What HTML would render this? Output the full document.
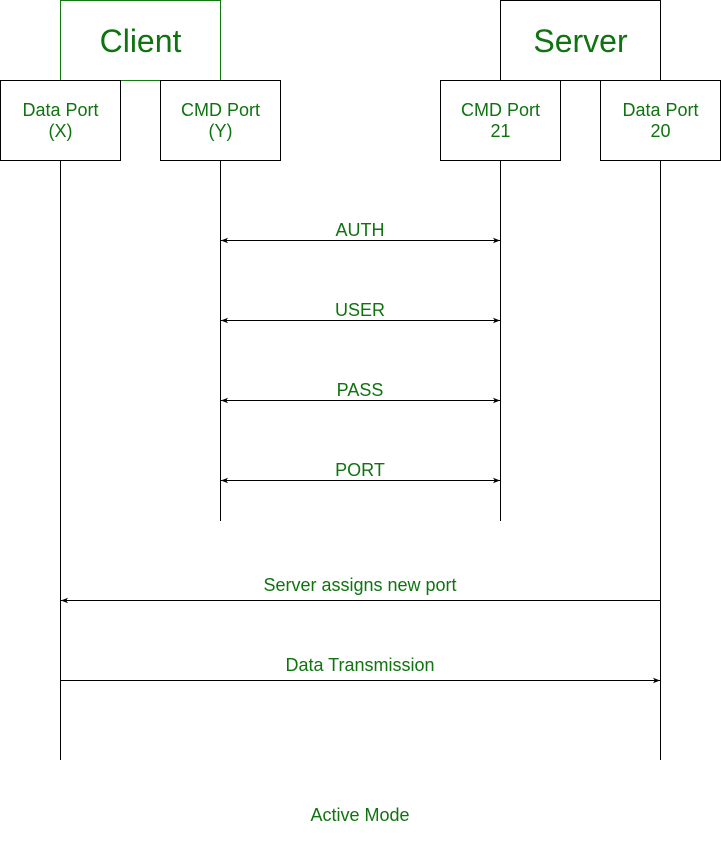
<!DOCTYPE html>
<html><head><meta charset="utf-8"><style>
html,body{margin:0;padding:0;background:#fff;}
svg{display:block;}
text{font-family:"Liberation Sans",sans-serif;fill:#0f730f;text-anchor:middle;}
</style></head><body>
<svg width="721" height="851" viewBox="0 0 721 851" xmlns="http://www.w3.org/2000/svg">
<defs>
<marker id="a" viewBox="0 0 10 10" refX="10" refY="5" markerWidth="7" markerHeight="7" orient="auto-start-reverse" markerUnits="userSpaceOnUse">
<path d="M0,1 L10,5 L0,9 L2.5,5 Z" fill="#000"/>
</marker>
</defs>
<g fill="none" stroke-width="1" shape-rendering="crispEdges">
<rect x="60.5" y="0.5" width="160" height="80" stroke="#137a13" fill="#fff"/>
<rect x="500.5" y="0.5" width="160" height="80" stroke="#000" fill="#fff"/>
<rect x="0.5" y="80.5" width="120" height="80" stroke="#000" fill="#fff"/>
<rect x="160.5" y="80.5" width="120" height="80" stroke="#000" fill="#fff"/>
<rect x="440.5" y="80.5" width="120" height="80" stroke="#000" fill="#fff"/>
<rect x="600.5" y="80.5" width="120" height="80" stroke="#000" fill="#fff"/>
<line x1="60.5" y1="160" x2="60.5" y2="760" stroke="#000"/>
<line x1="220.5" y1="160" x2="220.5" y2="521" stroke="#000"/>
<line x1="500.5" y1="160" x2="500.5" y2="521" stroke="#000"/>
<line x1="660.5" y1="160" x2="660.5" y2="760" stroke="#000"/>
</g>
<g stroke="#000" stroke-width="1">
<line x1="221" y1="240.5" x2="500" y2="240.5" marker-start="url(#a)" marker-end="url(#a)"/>
<line x1="221" y1="320.5" x2="500" y2="320.5" marker-start="url(#a)" marker-end="url(#a)"/>
<line x1="221" y1="400.5" x2="500" y2="400.5" marker-start="url(#a)" marker-end="url(#a)"/>
<line x1="221" y1="480.5" x2="500" y2="480.5" marker-start="url(#a)" marker-end="url(#a)"/>
<line x1="660" y1="600.5" x2="61" y2="600.5" marker-end="url(#a)"/>
<line x1="61" y1="680.5" x2="660" y2="680.5" marker-end="url(#a)"/>
</g>
<text x="140.5" y="52" font-size="32">Client</text>
<text x="580.5" y="52" font-size="32">Server</text>
<text x="60.5" y="116" font-size="18">Data Port</text>
<text x="60.5" y="137" font-size="18">(X)</text>
<text x="220.5" y="116" font-size="18">CMD Port</text>
<text x="220.5" y="137" font-size="18">(Y)</text>
<text x="500.5" y="116" font-size="18">CMD Port</text>
<text x="500.5" y="137" font-size="18">21</text>
<text x="660.5" y="116" font-size="18">Data Port</text>
<text x="660.5" y="137" font-size="18">20</text>
<text x="360" y="236" font-size="18">AUTH</text>
<text x="360" y="316" font-size="18">USER</text>
<text x="360" y="396" font-size="18">PASS</text>
<text x="360" y="476" font-size="18">PORT</text>
<text x="360" y="591" font-size="18">Server assigns new port</text>
<text x="360" y="671" font-size="18">Data Transmission</text>
<text x="360" y="821" font-size="18">Active Mode</text>
</svg>
</body></html>
